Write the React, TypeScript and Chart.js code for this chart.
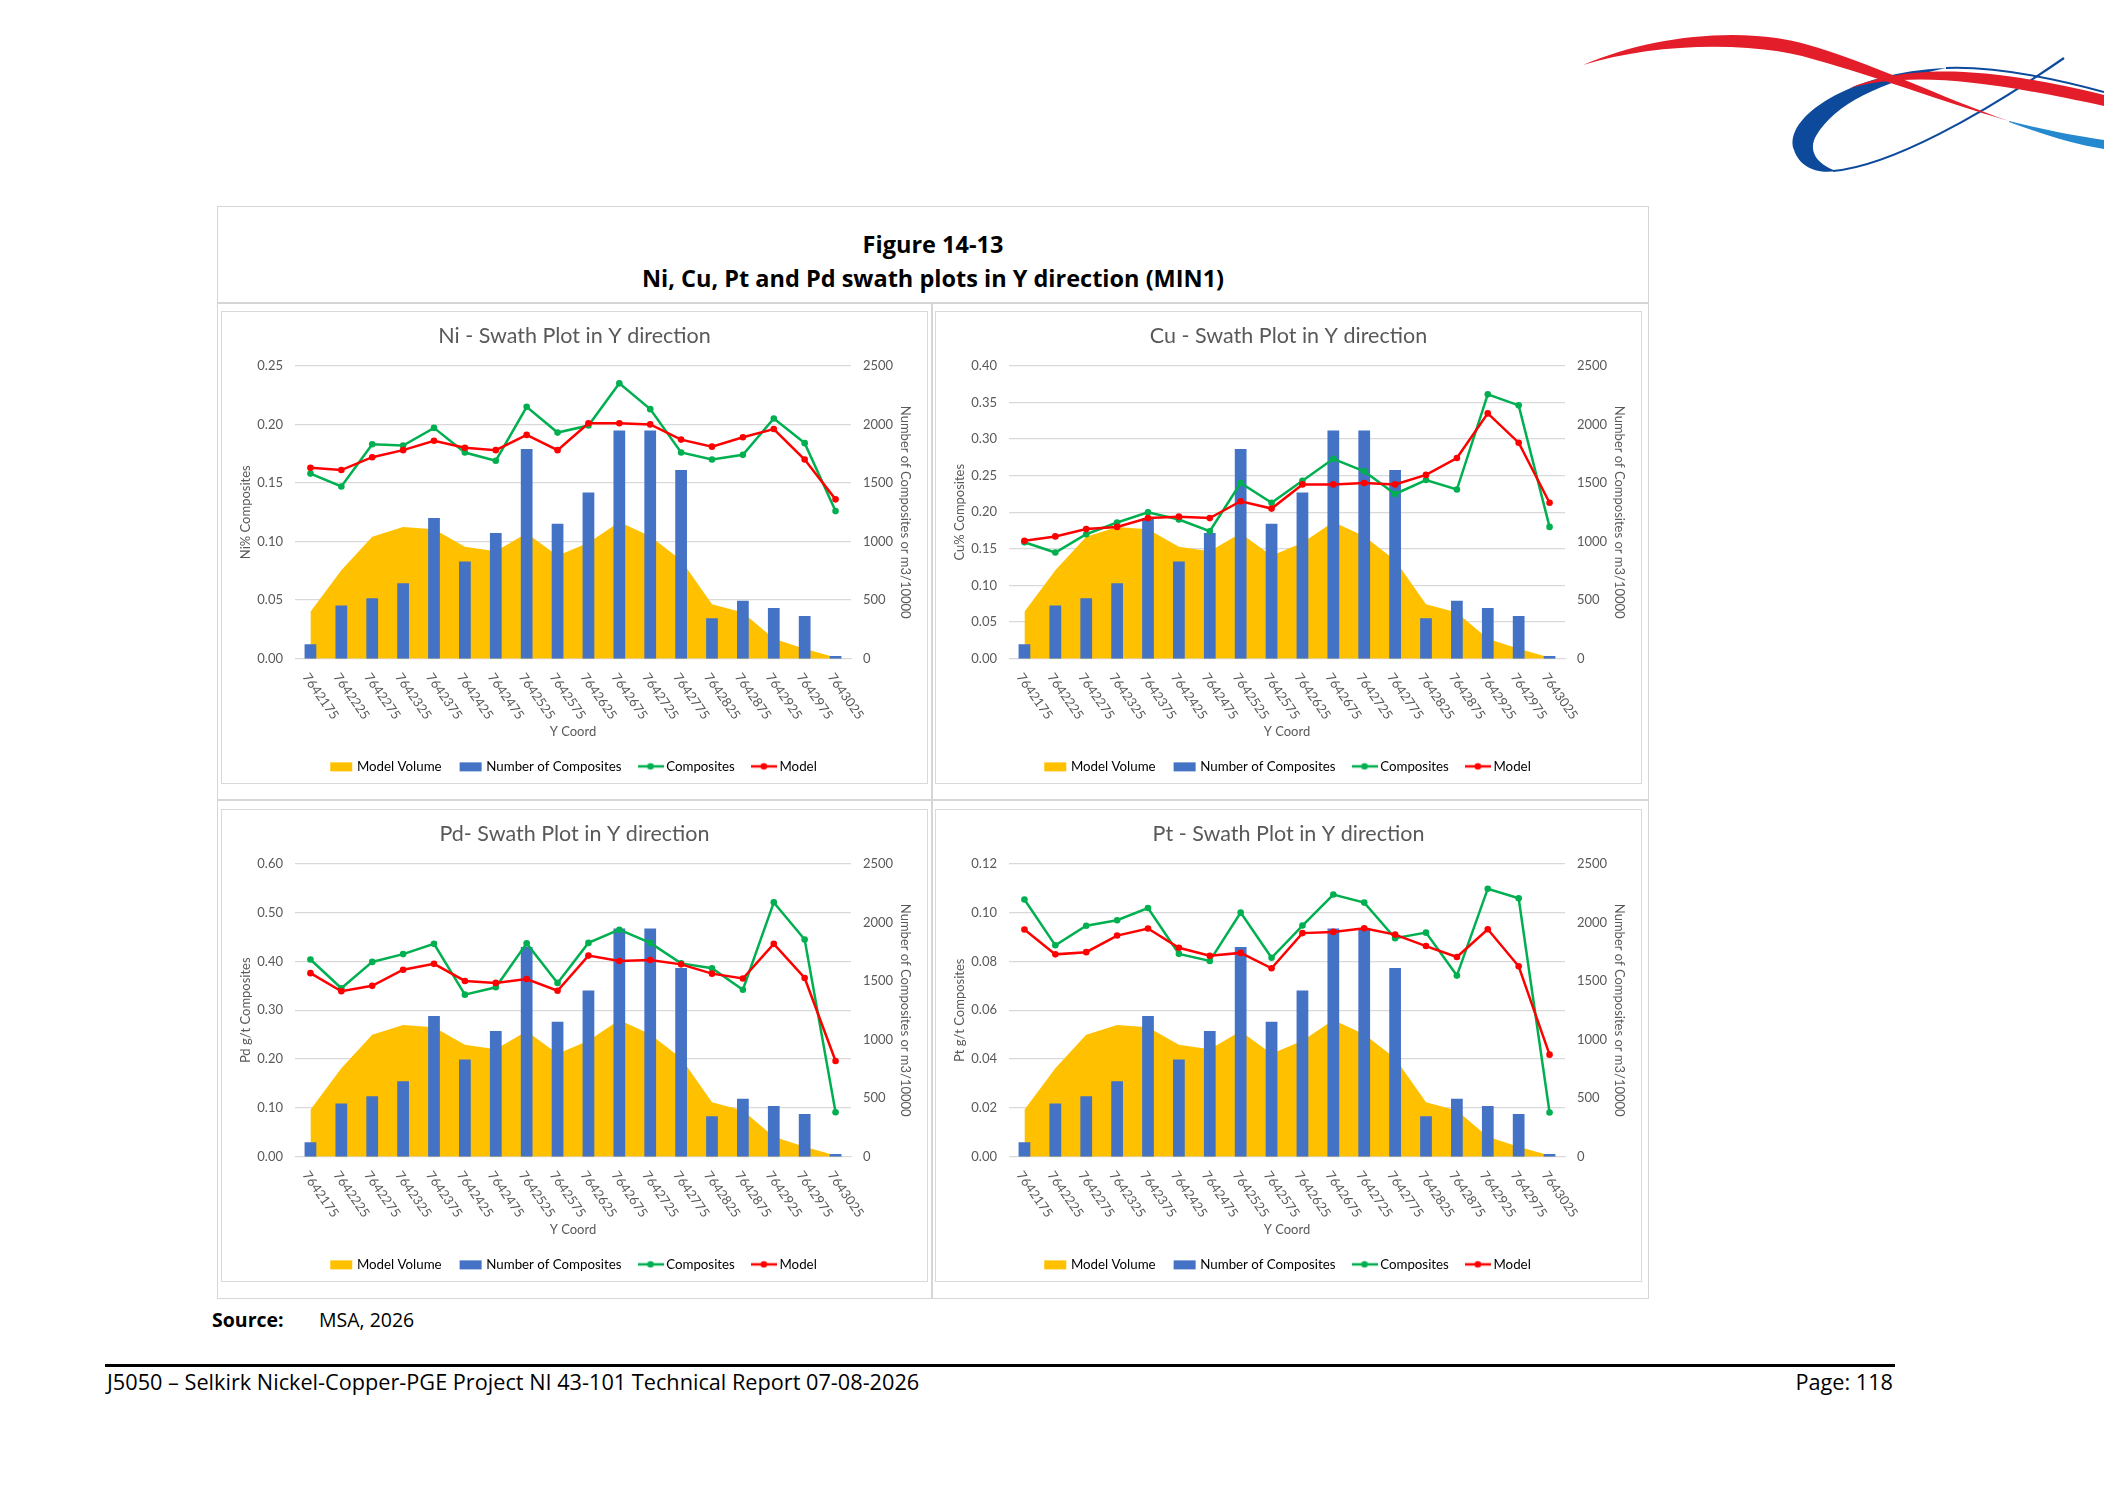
import React, { useEffect, useRef } from 'react';
import Chart from 'chart.js/auto';

// Y coordinate swaths (category axis)
const yCoords = [
  '7642175', '7642225', '7642275', '7642325', '7642375', '7642425',
  '7642475', '7642525', '7642575', '7642625', '7642675', '7642725',
  '7642775', '7642825', '7642875', '7642925', '7642975', '7643025',
];

// shared by all four plots (right axis)
const compositeCounts = [124, 455, 515, 644, 1200, 829, 1073, 1789, 1151, 1418, 1948, 1948, 1611, 345, 495, 432, 365, 23];
const modelVolume = [400, 755, 1041, 1125, 1105, 956, 918, 1070, 878, 990, 1167, 1045, 840, 465, 395, 170, 85, 10];

// grades (left axis)
const niComposites = [0.158, 0.147, 0.183, 0.182, 0.197, 0.176, 0.169, 0.215, 0.193, 0.199, 0.235, 0.213, 0.176, 0.170, 0.174, 0.205, 0.184, 0.126];
const niModel = [0.163, 0.161, 0.172, 0.178, 0.186, 0.180, 0.178, 0.191, 0.178, 0.201, 0.201, 0.200, 0.187, 0.181, 0.189, 0.196, 0.170, 0.136];

const cuComposites = [0.159, 0.145, 0.170, 0.186, 0.200, 0.190, 0.174, 0.240, 0.213, 0.243, 0.273, 0.256, 0.225, 0.244, 0.231, 0.361, 0.346, 0.180];
const cuModel = [0.161, 0.167, 0.177, 0.180, 0.192, 0.194, 0.192, 0.215, 0.205, 0.238, 0.238, 0.240, 0.238, 0.251, 0.274, 0.335, 0.295, 0.213];

const pdComposites = [0.404, 0.345, 0.399, 0.415, 0.436, 0.332, 0.347, 0.437, 0.356, 0.438, 0.465, 0.438, 0.396, 0.386, 0.342, 0.521, 0.445, 0.091];
const pdModel = [0.376, 0.339, 0.350, 0.383, 0.395, 0.360, 0.356, 0.364, 0.340, 0.412, 0.401, 0.403, 0.394, 0.375, 0.365, 0.436, 0.366, 0.196];

const ptComposites = [0.1054, 0.0866, 0.0946, 0.0969, 0.1019, 0.0831, 0.0802, 0.1000, 0.0815, 0.0947, 0.1074, 0.1041, 0.0895, 0.0918, 0.0742, 0.1098, 0.1059, 0.0181];
const ptModel = [0.0931, 0.0829, 0.0838, 0.0906, 0.0935, 0.0856, 0.0823, 0.0835, 0.0772, 0.0916, 0.0921, 0.0936, 0.0910, 0.0863, 0.0818, 0.0932, 0.0780, 0.0418];

const seriesNames = ['Model Volume', 'Number of Composites', 'Composites', 'Model'];

const GREY = '#595959';
const GRID = '#D9D9D9';
const VOLUME = '#FFC000';
const BARS = '#4472C4';
const GREEN = '#00B050';
const RED = '#FF0000';
const CHART_FONT = 'Lato';
const DOC_FONT = '"Open Sans"';

// legend swatch drawn on a small canvas
function makeMarker(kind: 'box' | 'line', color: string) {
  const c = document.createElement('canvas');
  c.width = 26;
  c.height = 12;
  const g = c.getContext('2d')!;
  if (kind === 'box') {
    g.fillStyle = color;
    g.fillRect(2, 2, 22, 9);
  } else {
    g.strokeStyle = color;
    g.lineWidth = 2.5;
    g.beginPath();
    g.moveTo(0, 6);
    g.lineTo(26, 6);
    g.stroke();
    g.fillStyle = color;
    g.beginPath();
    g.arc(13, 6, 3.3, 0, Math.PI * 2);
    g.fill();
  }
  return c;
}

// Excel style x labels, rotated clockwise and starting at the tick
const rotatedLabels = {
  id: 'rotatedLabels',
  afterDraw(chart: any) {
    const xs = chart.scales.x;
    const ctx = chart.ctx;
    ctx.save();
    ctx.font = `13px ${CHART_FONT}`;
    ctx.fillStyle = GREY;
    ctx.textAlign = 'left';
    ctx.textBaseline = 'middle';
    (chart.data.labels as string[]).forEach((lab, i) => {
      const px = xs.getPixelForValue(i);
      ctx.save();
      ctx.translate(px - 5, xs.top + 16);
      ctx.rotate((55 * Math.PI) / 180);
      ctx.fillText(lab, 0, 0);
      ctx.restore();
    });
    ctx.restore();
  },
};

type SwathProps = {
  title: string;
  yTitle: string;
  yMax: number;
  yStep: number;
  composites: number[];
  model: number[];
};

const SwathChart: React.FC<SwathProps> = ({ title, yTitle, yMax, yStep, composites, model }) => {
  const chartRef = useRef<HTMLCanvasElement>(null);
  const chartInstance = useRef<Chart | null>(null);

  useEffect(() => {
    if (!chartRef.current) return;
    const markers = [
      makeMarker('box', VOLUME),
      makeMarker('box', BARS),
      makeMarker('line', GREEN),
      makeMarker('line', RED),
    ];
    const tickFont = { family: CHART_FONT, size: 13 };

    chartInstance.current = new Chart(chartRef.current, {
      type: 'bar',
      data: {
        labels: yCoords,
        datasets: [
          {
            type: 'line',
            label: seriesNames[0],
            data: modelVolume,
            yAxisID: 'y1',
            fill: 'origin',
            backgroundColor: VOLUME,
            borderWidth: 0,
            pointRadius: 0,
            tension: 0,
            order: 4,
          },
          {
            type: 'bar',
            label: seriesNames[1],
            data: compositeCounts,
            yAxisID: 'y1',
            backgroundColor: BARS,
            barPercentage: 0.38,
            categoryPercentage: 1,
            order: 3,
          },
          {
            type: 'line',
            label: seriesNames[2],
            data: composites,
            yAxisID: 'y',
            borderColor: GREEN,
            backgroundColor: GREEN,
            borderWidth: 2.5,
            pointRadius: 3.3,
            pointBackgroundColor: GREEN,
            pointBorderWidth: 0,
            fill: false,
            order: 2,
          },
          {
            type: 'line',
            label: seriesNames[3],
            data: model,
            yAxisID: 'y',
            borderColor: RED,
            backgroundColor: RED,
            borderWidth: 2.5,
            pointRadius: 3.3,
            pointBackgroundColor: RED,
            pointBorderWidth: 0,
            fill: false,
            order: 1,
          },
        ],
      } as any,
      options: {
        animation: false,
        responsive: true,
        maintainAspectRatio: false,
        layout: { padding: { top: 0, left: 0, right: 0, bottom: 0 } },
        plugins: {
          tooltip: { enabled: false },
          title: {
            display: true,
            text: title,
            color: GREY,
            font: { family: CHART_FONT, size: 21.5, weight: 'normal' },
            padding: { top: 11, bottom: 17 },
          },
          legend: {
            position: 'bottom',
            labels: {
              usePointStyle: true,
              pointStyleWidth: 18,
              boxHeight: 12,
              padding: 20,
              color: GREY,
              font: { family: CHART_FONT, size: 13.3 },
              generateLabels: (chart: any) =>
                chart.data.datasets.map((ds: any, i: number) => ({
                  text: ds.label,
                  pointStyle: markers[i],
                  fillStyle: 'transparent',
                  strokeStyle: 'transparent',
                  lineWidth: 0,
                  hidden: false,
                  datasetIndex: i,
                })),
            },
          },
        },
        scales: {
          x: {
            offset: true,
            grid: { display: false },
            border: { display: true, color: GRID },
            ticks: { display: false },
            title: {
              display: true,
              text: 'Y Coord',
              color: GREY,
              font: tickFont,
              padding: { top: 0, bottom: 0 },
            },
            afterFit: (s: any) => {
              s.height = 81;
            },
          },
          y: {
            position: 'left',
            min: 0,
            max: yMax,
            ticks: {
              stepSize: yStep,
              padding: 12,
              color: GREY,
              font: tickFont,
              callback: (v: any) => Number(v).toFixed(2),
            },
            grid: { color: GRID, drawTicks: false, lineWidth: 1.3 },
            border: { display: false },
            title: {
              display: true,
              text: yTitle,
              color: GREY,
              font: tickFont,
              padding: { top: 16, bottom: 0 },
            },
            afterFit: (s: any) => {
              s.width = 73;
            },
          },
          y1: {
            position: 'right',
            min: 0,
            max: 2500,
            ticks: {
              stepSize: 500,
              padding: 12,
              color: GREY,
              font: tickFont,
              callback: (v: any) => String(v),
            },
            grid: { display: false, drawTicks: false },
            border: { display: false },
            title: {
              display: true,
              text: 'Number of Composites or m3/10000',
              color: GREY,
              font: tickFont,
              padding: { top: 14, bottom: 0 },
            },
            afterFit: (s: any) => {
              s.width = 76;
            },
          },
        },
      } as any,
      plugins: [rotatedLabels],
    });

    return () => {
      if (chartInstance.current) {
        chartInstance.current.destroy();
        chartInstance.current = null;
      }
    };
  }, [title, yTitle, yMax, yStep, composites, model]);

  return <canvas ref={chartRef} />;
};

const abs = (left: number, top: number, width: number, height: number): React.CSSProperties => ({
  position: 'absolute',
  left,
  top,
  width,
  height,
  boxSizing: 'border-box',
});

const ChartBox: React.FC<{ left: number; top: number; children: React.ReactNode }> = ({ left, top, children }) => (
  <div style={{ ...abs(left, top, 707, 473), border: `1px solid ${GRID}`, background: '#fff' }}>
    <div style={{ position: 'relative', width: 705, height: 471 }}>{children}</div>
  </div>
);

const Logo: React.FC = () => (
  <svg style={{ position: 'absolute', left: 1550, top: 0 }} width={554} height={200} viewBox="0 0 554 200">
    <path d="M 396 68 C 300 72, 232 118, 244 150 C 250 168, 268 174, 286 171 C 266 164, 258 150, 266 136 C 285 104, 330 82, 396 68 Z" fill="#0D4A9B" />
    <path d="M 283 171 C 340 166, 430 116, 514 58" stroke="#0D4A9B" strokeWidth={2.2} fill="none" />
    <path d="M 396 68 C 450 66, 510 80, 554 92" stroke="#0D4A9B" strokeWidth={2} fill="none" />
    <path d="M 33 65 C 100 36, 190 26, 255 44 C 320 62, 390 97, 459 121 C 390 101, 320 74, 252 56 C 190 41, 100 44, 33 65 Z" fill="#E31E2A" />
    <path d="M 459 121 C 490 129, 525 136, 554 140 L 554 149 C 520 144, 490 133, 459 122 Z" fill="#2589CF" />
    <path d="M 300 88 C 350 68, 420 62, 554 95 L 554 106 C 430 79, 360 72, 300 88 Z" fill="#E31E2A" />
  </svg>
);

const App: React.FC = () => {
  return (
    <div style={{ ...abs(0, 0, 2104, 1488), background: '#fff', overflow: 'hidden', fontFamily: DOC_FONT, color: '#000' }}>
      <Logo />

      {/* figure frame */}
      <div style={{ ...abs(217, 206, 1432, 1093), border: '1.5px solid #D6D6D6' }} />
      <div style={{ ...abs(217, 302, 1432, 1.5), background: '#D6D6D6' }} />
      <div style={{ ...abs(217, 799, 1432, 1.5), background: '#D6D6D6' }} />
      <div style={{ ...abs(931, 302, 1.5, 996), background: '#D6D6D6' }} />

      <div style={{ ...abs(217, 227, 1432, 72), textAlign: 'center', fontWeight: 700, fontSize: 23.5, lineHeight: '34px' }}>
        <div>Figure 14-13</div>
        <div>Ni, Cu, Pt and Pd swath plots in Y direction (MIN1)</div>
      </div>

      <ChartBox left={221} top={311}>
        <SwathChart title="Ni - Swath Plot in Y direction" yTitle="Ni% Composites" yMax={0.25} yStep={0.05} composites={niComposites} model={niModel} />
      </ChartBox>
      <ChartBox left={935} top={311}>
        <SwathChart title="Cu - Swath Plot in Y direction" yTitle="Cu% Composites" yMax={0.4} yStep={0.05} composites={cuComposites} model={cuModel} />
      </ChartBox>
      <ChartBox left={221} top={809}>
        <SwathChart title="Pd- Swath Plot in Y direction" yTitle="Pd g/t Composites" yMax={0.6} yStep={0.1} composites={pdComposites} model={pdModel} />
      </ChartBox>
      <ChartBox left={935} top={809}>
        <SwathChart title="Pt - Swath Plot in Y direction" yTitle="Pt g/t Composites" yMax={0.12} yStep={0.02} composites={ptComposites} model={ptModel} />
      </ChartBox>

      <div style={{ ...abs(212, 1305, 400, 30), fontSize: 19.5, lineHeight: '30px' }}>
        <span style={{ fontWeight: 700 }}>Source:</span>
        <span style={{ position: 'absolute', left: 107 }}>MSA, 2026</span>
      </div>

      <div style={{ ...abs(105, 1364, 1790, 3), background: '#000' }} />
      <div style={{ ...abs(107, 1366, 1786, 32), fontSize: 21.7, lineHeight: '32px' }}>
        <span>J5050 – Selkirk Nickel-Copper-PGE Project NI 43-101 Technical Report 07-08-2026</span>
        <span style={{ position: 'absolute', right: 0 }}>Page: 118</span>
      </div>
    </div>
  );
};

export default App;
